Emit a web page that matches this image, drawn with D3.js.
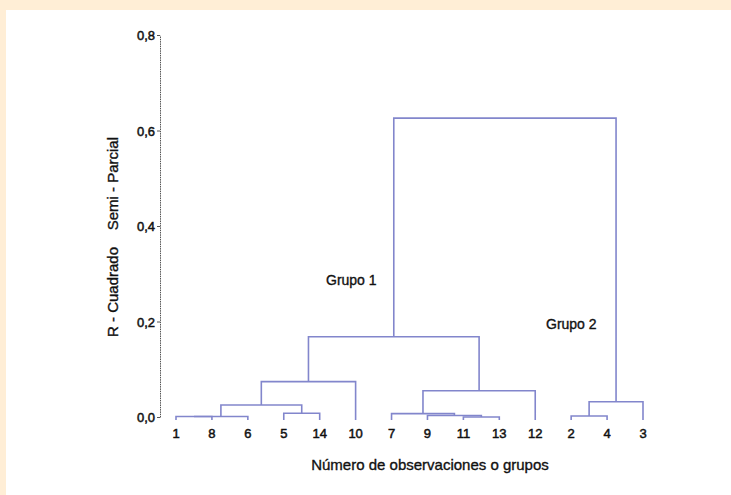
<!DOCTYPE html>
<html><head><meta charset="utf-8">
<script src="https://cdn.jsdelivr.net/npm/d3@7/dist/d3.min.js"></script>
<style>
html,body{margin:0;padding:0;background:#FFEED6;}
svg{display:block;}
text{font-family:"Liberation Sans",Arial,sans-serif;fill:#111;}
</style></head>
<body>
<svg id="c" width="731" height="495"></svg>
<script>
// Leaf order along the x axis
const leaves = ["1","8","6","5","14","10","7","9","11","13","12","2","4","3"];
// Merge steps: each merges two nodes (leaf label or earlier merge id) at a height
const mergeIds    = ["A","B","C","D","E","F","G","H","I","J","K","L","M"];
const mergeLeft   = ["1","A","5","B","D","11","9","7","H","E","2","K","J"];
const mergeRight  = ["8","6","14","C","10","13","F","G","12","I","4","3","L"];
const mergeHeight = [0.001,0.001,0.008,0.025,0.074,0.0,0.003,0.007,0.055,0.168,0.002,0.032,0.626];
const yTicks = [0,0.2,0.4,0.6,0.8];
const yTitle = "R - Cuadrado    Semi - Parcial";
const xTitle = "Número de observaciones o grupos";
const groupLabels = ["Grupo 1","Grupo 2"];

const svg = d3.select("#c");
svg.append("rect").attr("x",6).attr("y",10).attr("width",725).attr("height",485).attr("fill","#fff");

const x = d3.scalePoint().domain(leaves).range([176,643]);
const y = d3.scaleLinear().domain([0,0.8]).range([417,35]);
const leafDrop = 3;

// node positions
const pos = {};
leaves.forEach(l => pos[l] = {x: x(l), y: y(0)+leafDrop});
const linkColor = "#8286CC";
const g = svg.append("g");
mergeIds.forEach((id,i) => {
  const a = pos[mergeLeft[i]], b = pos[mergeRight[i]];
  const yy = y(mergeHeight[i]);
  const p = d3.path();
  p.moveTo(a.x, a.y); p.lineTo(a.x, yy); p.lineTo(b.x, yy); p.lineTo(b.x, b.y);
  g.append("path").attr("d", p.toString()).attr("fill","none")
    .attr("stroke", linkColor).attr("stroke-width",1.6);
  pos[id] = {x:(a.x+b.x)/2, y: yy};
});

// y axis
const ax = svg.append("g").attr("transform","translate(160,0)")
  .call(d3.axisLeft(y).tickValues(yTicks).tickSize(3).tickSizeOuter(0)
    .tickFormat(d => d3.format(".1f")(d).replace(".",",")));
ax.select(".domain").attr("stroke","#555").attr("stroke-dasharray","1.5,0.8");
ax.selectAll(".tick line").attr("stroke","#555");
ax.selectAll(".tick text").attr("font-size",13).attr("font-family","Liberation Sans, Arial, sans-serif")
  .attr("fill","#111").attr("x",-5).attr("dy","0.35em").attr("stroke","#111").attr("stroke-width",0.5);

// leaf labels
svg.append("g").selectAll("text").data(leaves).join("text")
  .attr("x", d => x(d)).attr("y", 438).attr("text-anchor","middle")
  .attr("font-size",13).attr("stroke","#111").attr("stroke-width",0.5).text(d => d);

// titles
svg.append("text").attr("x",430).attr("y",470).attr("text-anchor","middle")
  .attr("font-size",15).attr("stroke","#111").attr("stroke-width",0.35).text(xTitle);
svg.append("text").attr("transform","translate(118,237) rotate(-90)").attr("text-anchor","middle")
  .attr("font-size",15).attr("stroke","#111").attr("stroke-width",0.35).attr("xml:space","preserve")
  .style("white-space","pre").text(yTitle);

svg.append("text").attr("x",326).attr("y",285).attr("font-size",14)
  .attr("stroke","#111").attr("stroke-width",0.35).text(groupLabels[0]);
svg.append("text").attr("x",546).attr("y",329).attr("font-size",14)
  .attr("stroke","#111").attr("stroke-width",0.35).text(groupLabels[1]);
</script>
</body></html>
